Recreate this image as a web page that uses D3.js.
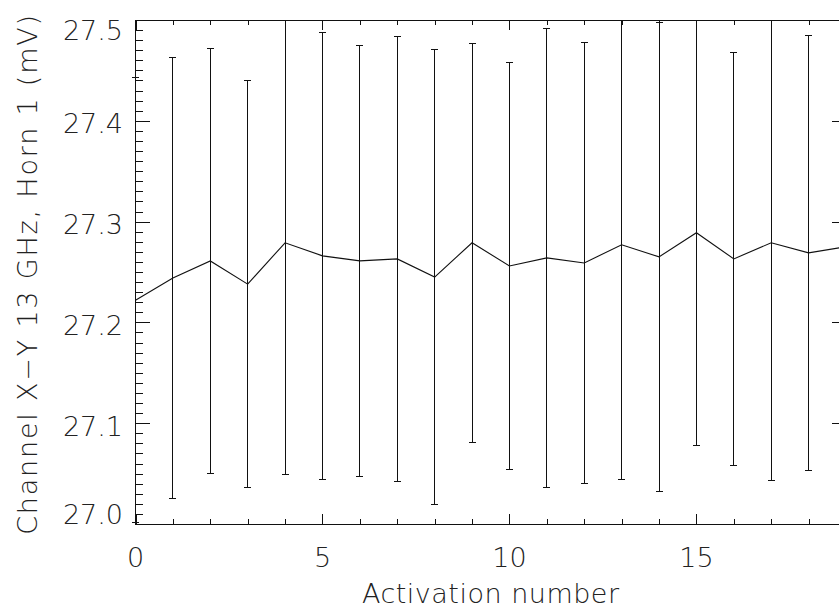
<!DOCTYPE html>
<html>
<head>
<meta charset="utf-8">
<script src="https://cdn.jsdelivr.net/npm/d3@7"></script>
<style>
  html, body { margin: 0; padding: 0; background: #fff; }
  svg { display: block; }
  text { font-family: "DejaVu Sans", sans-serif; font-weight: 200; fill: #222; }
</style>
</head>
<body>
<svg id="chart" width="839" height="608"></svg>
<script>
// Activation series: mean output voltage and its 1-sigma spread per activation
const activation = [0, 1, 2, 3, 4, 5, 6, 7, 8, 9, 10, 11, 12, 13, 14, 15, 16, 17, 18, 19];
const meanMV = [27.222, 27.244, 27.261, 27.238, 27.279, 27.266, 27.261, 27.263, 27.245, 27.279,
                27.256, 27.264, 27.259, 27.277, 27.265, 27.289, 27.263, 27.279, 27.269, 27.275];
const errMV  = [0.221, 0.219, 0.211, 0.202, 0.230, 0.222, 0.214, 0.221, 0.226, 0.198,
                0.202, 0.228, 0.219, 0.233, 0.233, 0.211, 0.205, 0.236, 0.216, 0.220];

const xMajorTicks = [0, 5, 10, 15];
const xMinorTicks = [0, 1, 2, 3, 4, 5, 6, 7, 8, 9, 10, 11, 12, 13, 14, 15, 16, 17, 18, 19];
const yMajorTicks = [27.0, 27.1, 27.2, 27.3, 27.4, 27.5];
const yTickLabels = ["27.0", "27.1", "27.2", "27.3", "27.4", "27.5"];

const xTitle = "Activation number";
const yTitle = "Channel X\u2212Y 13 GHz, Horn 1 (mV)";

const svg = d3.select("#chart");

// Plot box (the right edge runs past the page edge)
const boxL = 135.5, boxR = 846, boxT = 20, boxB = 524;
const x = d3.scaleLinear().domain([0, 19]).range([boxL, boxR]);
const y = d3.scaleLinear().domain([27.0, 27.5]).range([boxB, boxT]);

const yMinorTicks = d3.range(0, 51).map(i => 27.0 + i * 0.01);

const axisStyle = g => {
  g.select(".domain").remove();
  g.selectAll("line").attr("stroke", "#111").attr("stroke-width", 1);
  g.selectAll("text").remove();
  g.attr("shape-rendering", "crispEdges");
};

// Bottom / top axes: ticks point into the plot
svg.append("g").attr("transform", `translate(0,${boxB})`)
  .call(d3.axisBottom(x).tickValues(xMinorTicks).tickSize(-5)).call(axisStyle);
svg.append("g").attr("transform", `translate(0,${boxB})`)
  .call(d3.axisBottom(x).tickValues(xMajorTicks).tickSize(-10)).call(axisStyle);
svg.append("g").attr("transform", `translate(0,${boxT})`)
  .call(d3.axisTop(x).tickValues(xMinorTicks).tickSize(-5)).call(axisStyle);
svg.append("g").attr("transform", `translate(0,${boxT})`)
  .call(d3.axisTop(x).tickValues(xMajorTicks).tickSize(-10)).call(axisStyle);

// Left / right axes
svg.append("g").attr("transform", `translate(${boxL},0)`)
  .call(d3.axisLeft(y).tickValues(yMinorTicks).tickSize(-7)).call(axisStyle);
svg.append("g").attr("transform", `translate(${boxL},0)`)
  .call(d3.axisLeft(y).tickValues(yMajorTicks).tickSize(-14)).call(axisStyle);
svg.append("g").attr("transform", `translate(${boxR},0)`)
  .call(d3.axisRight(y).tickValues(yMinorTicks).tickSize(-7)).call(axisStyle);
svg.append("g").attr("transform", `translate(${boxR},0)`)
  .call(d3.axisRight(y).tickValues(yMajorTicks).tickSize(-14)).call(axisStyle);

// Frame
svg.append("rect")
  .attr("x", boxL).attr("y", boxT)
  .attr("width", boxR - boxL).attr("height", boxB - boxT)
  .attr("fill", "none").attr("stroke", "#111").attr("stroke-width", 1)
  .attr("shape-rendering", "crispEdges");

// Tick labels
svg.append("g").selectAll("text").data(xMajorTicks).join("text")
  .attr("x", d => x(d)).attr("y", 566.5)
  .attr("text-anchor", "middle").attr("font-size", 27)
  .text(d => String(d));

svg.append("g").selectAll("text").data(yMajorTicks).join("text")
  .attr("x", 123).attr("y", (d, i) => {
    if (i === 0) return y(d);
    if (i === yMajorTicks.length - 1) return y(d) + 20;
    return y(d) + 12.5;
  })
  .attr("text-anchor", "end").attr("font-size", 27)
  .text((d, i) => yTickLabels[i]);

// Axis titles
svg.append("text")
  .attr("x", (boxL + boxR) / 2).attr("y", 603)
  .attr("text-anchor", "middle").attr("font-size", 27)
  .attr("letter-spacing", 0.5)
  .text(xTitle);

svg.append("text")
  .attr("transform", `translate(36.5,${(boxT + boxB) / 2 + 2}) rotate(-90)`)
  .attr("text-anchor", "middle").attr("font-size", 27)
  .attr("letter-spacing", 1.8)
  .text(yTitle);

// Error bars, clipped to the plot height
svg.append("clipPath").attr("id", "plotClip")
  .append("rect").attr("x", 0).attr("y", boxT).attr("width", 900).attr("height", boxB - boxT);

const bars = svg.append("g").attr("clip-path", "url(#plotClip)")
  .attr("stroke", "#111").attr("stroke-width", 1).attr("shape-rendering", "crispEdges");

const pts = activation.map((a, i) => ({ a, m: meanMV[i], e: errMV[i] }));

bars.selectAll("line.stem").data(pts).join("line").attr("class", "stem")
  .attr("x1", d => x(d.a)).attr("x2", d => x(d.a))
  .attr("y1", d => y(d.m - d.e)).attr("y2", d => y(d.m + d.e));
bars.selectAll("line.capTop").data(pts).join("line").attr("class", "capTop")
  .attr("x1", d => x(d.a) - 3.5).attr("x2", d => x(d.a) + 3.5)
  .attr("y1", d => y(d.m + d.e)).attr("y2", d => y(d.m + d.e));
bars.selectAll("line.capBot").data(pts).join("line").attr("class", "capBot")
  .attr("x1", d => x(d.a) - 3.5).attr("x2", d => x(d.a) + 3.5)
  .attr("y1", d => y(d.m - d.e)).attr("y2", d => y(d.m - d.e));

// Mean voltage line
svg.append("path").datum(pts)
  .attr("fill", "none").attr("stroke", "#111").attr("stroke-width", 1.1)
  .attr("d", d3.line().x(d => x(d.a)).y(d => y(d.m)));
</script>
</body>
</html>
